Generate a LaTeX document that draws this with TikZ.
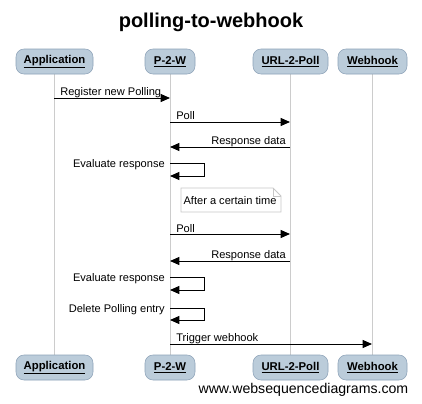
\documentclass[tikz,border=0pt]{standalone}
\usepackage{fontspec}
\setmainfont{Liberation Sans}
\usetikzlibrary{arrows.meta}
\definecolor{boxfill}{HTML}{BBCCDA}
\definecolor{boxdraw}{HTML}{8DA2B8}
\definecolor{lifeline}{HTML}{CCCCCC}
\definecolor{notedraw}{HTML}{C8C8C8}
\begin{document}
\begin{tikzpicture}[x=0.75pt,y=-0.75pt,
  actor/.style={draw=boxdraw,fill=boxfill,rounded corners=6pt,minimum height=18.75pt,inner xsep=4pt,font=\fontsize{8.5}{10}\selectfont\bfseries},
  life/.style={draw=lifeline,line width=0.6pt},
  msg/.style={draw=black,line width=0.75pt,-{Triangle[length=7pt,width=6pt]}},
  lbl/.style={font=\fontsize{8.3}{9.6}\selectfont,inner sep=0pt},
]
\useasboundingbox (0,0) rectangle (422,404);
\fill[white] (0,0) rectangle (422,404);
\node[font=\fontsize{15}{18}\selectfont\bfseries] (title) at (211,22) {polling-to-webhook};
% lifelines
\coordinate (appTc) at (54.5,74); \coordinate (appBc) at (54.5,355);
\coordinate (pwTc) at (170,74); \coordinate (pwBc) at (170,355);
\coordinate (upTc) at (290.5,74); \coordinate (upBc) at (290.5,355);
\coordinate (whTc) at (372.5,74); \coordinate (whBc) at (372.5,355);
\draw[life] (appTc) -- (appBc);
\draw[life] (pwTc) -- (pwBc);
\draw[life] (upTc) -- (upBc);
\draw[life] (whTc) -- (whBc);
% actors top
\node[actor,minimum width=57.75pt] (appT) at (54.5,61.5) {\underline{Application}};
\node[actor,minimum width=37.5pt] (pwT) at (170,61.5) {\underline{P-2-W}};
\node[actor,minimum width=56.25pt] (upT) at (290.5,61.5) {\underline{URL-2-Poll}};
\node[actor,minimum width=51.75pt] (whT) at (372.5,61.5) {\underline{Webhook}};
% actors bottom
\node[actor,minimum width=57.75pt] (appB) at (54.5,367.5) {\underline{Application}};
\node[actor,minimum width=37.5pt] (pwB) at (170,367.5) {\underline{P-2-W}};
\node[actor,minimum width=56.25pt] (upB) at (290.5,367.5) {\underline{URL-2-Poll}};
\node[actor,minimum width=51.75pt] (whB) at (372.5,367.5) {\underline{Webhook}};
% coordinates
\coordinate (a1) at (54,98);  \coordinate (p1) at (170,98);
\coordinate (p2) at (170,122); \coordinate (u2) at (290,122);
\coordinate (u3) at (290,147); \coordinate (p3) at (170,147);
\coordinate (p4) at (170,163); \coordinate (p4b) at (170,176);
\coordinate (p5) at (170,234); \coordinate (u5) at (290,234);
\coordinate (u6) at (290,261); \coordinate (p6) at (170,261);
\coordinate (p7) at (170,277); \coordinate (p7b) at (170,290);
\coordinate (p8) at (170,308); \coordinate (p8b) at (170,320);
\coordinate (p9) at (170,344); \coordinate (w9) at (372,344);
% messages
\draw[msg] (a1) -- (p1);
\node[lbl,anchor=base west] (l1) at (60,95) {Register new Polling};
\draw[msg] (p2) -- (u2);
\node[lbl,anchor=base west] (l2) at (176,119) {Poll};
\draw[msg] (u3) -- (p3);
\node[lbl,anchor=base east] (l3) at (286,144) {Response data};
\draw[msg] (p4) -- ++(34,0) |- (p4b);
\node[lbl,anchor=base east] (l4) at (165,167) {Evaluate response};
% note
\draw[draw=notedraw,fill=white,line width=0.6pt] (181,188) -- (273,188) -- (281,196) -- (281,212) -- (181,212) -- cycle;
\draw[draw=notedraw,line width=0.6pt] (273,188) -- (273,196) -- (281,196);
\node[lbl] (note) at (230,201) {After a certain time};
\draw[msg] (p5) -- (u5);
\node[lbl,anchor=base west] (l5) at (176,232) {Poll};
\draw[msg] (u6) -- (p6);
\node[lbl,anchor=base east] (l6) at (286,258) {Response data};
\draw[msg] (p7) -- ++(34,0) |- (p7b);
\node[lbl,anchor=base east] (l7) at (165,281) {Evaluate response};
\draw[msg] (p8) -- ++(34,0) |- (p8b);
\node[lbl,anchor=base east] (l8) at (165,312) {Delete Polling entry};
\draw[msg] (p9) -- (w9);
\node[lbl,anchor=base west] (l9) at (176,341) {Trigger webhook};
% watermark
\node[font=\fontsize{10.6}{12}\selectfont,anchor=east] (wm) at (413,390) {www.websequencediagrams.com};
\end{tikzpicture}
\end{document}
